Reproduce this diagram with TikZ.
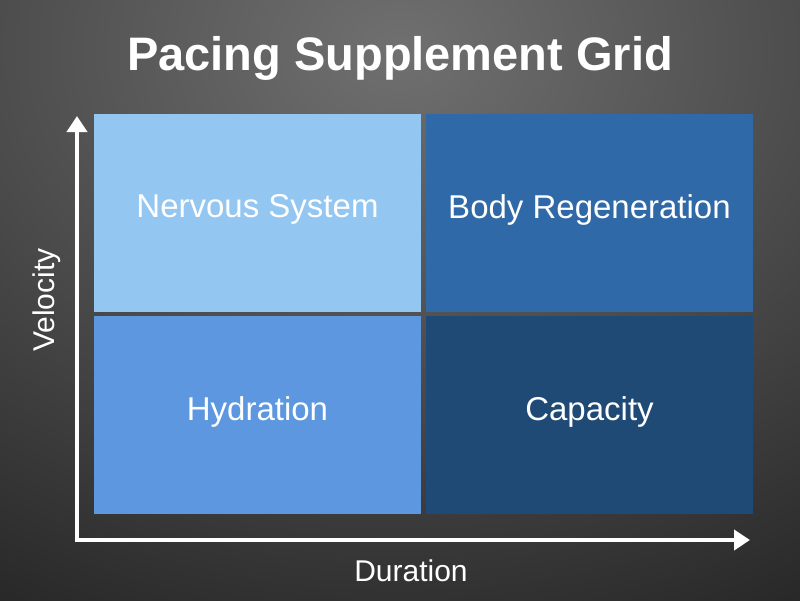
\documentclass[tikz,border=0pt]{standalone}
\usepackage{fontspec}
\setmainfont{Liberation Sans}
\usetikzlibrary{arrows.meta}
\definecolor{bgin}{HTML}{707070}
\definecolor{bgout}{HTML}{262626}
\definecolor{cNS}{HTML}{93C6F1}
\definecolor{cBR}{HTML}{3069A8}
\definecolor{cHY}{HTML}{5C97DF}
\definecolor{cCA}{HTML}{1F4A76}
\tikzset{
 cell/.style={minimum width=327pt,minimum height=198pt,inner sep=0pt,draw=none},
 lbl/.style={text=white,font=\fontsize{33}{36}\selectfont},
 axis/.style={white,line width=4.5pt,-{Triangle[length=16pt,width=20pt]}}
}
\begin{document}
\begin{tikzpicture}[x=1pt,y=-1pt]
\useasboundingbox (0,0) rectangle (800,600);
\clip (0,0) rectangle (800,600);
\shade[inner color=bgin,outer color=bgout] (-450,-600) rectangle (1250,700);
\node[cell,fill=cNS] (ns) at (257.5,212.5) {};
\node[cell,fill=cBR] (br) at (589.5,212.5) {};
\node[cell,fill=cHY] (hy) at (257.5,415) {};
\node[cell,fill=cCA] (ca) at (589.5,415) {};
\foreach \n/\t in {ns/Nervous System,br/Body Regeneration,hy/Hydration,ca/Capacity}{
 \node[lbl] at ([yshift=3pt]\n) {\t};
}
\coordinate (o) at (77,540);
\coordinate (ytop) at (77,116);
\coordinate (xend) at (750,540);
\draw[axis] (o) -- (ytop);
\draw[axis] ([xshift=-2.25pt]o) -- (xend);
\node[text=white,font=\bfseries\fontsize{47}{52}\selectfont] (title) at (400,58) {Pacing Supplement Grid};
\node[lbl,rotate=90,font=\fontsize{30}{34}\selectfont] (vel) at (47,300) {Velocity};
\node[lbl,font=\fontsize{30}{34}\selectfont] (dur) at (411,571) {Duration};
\end{tikzpicture}
\end{document}
